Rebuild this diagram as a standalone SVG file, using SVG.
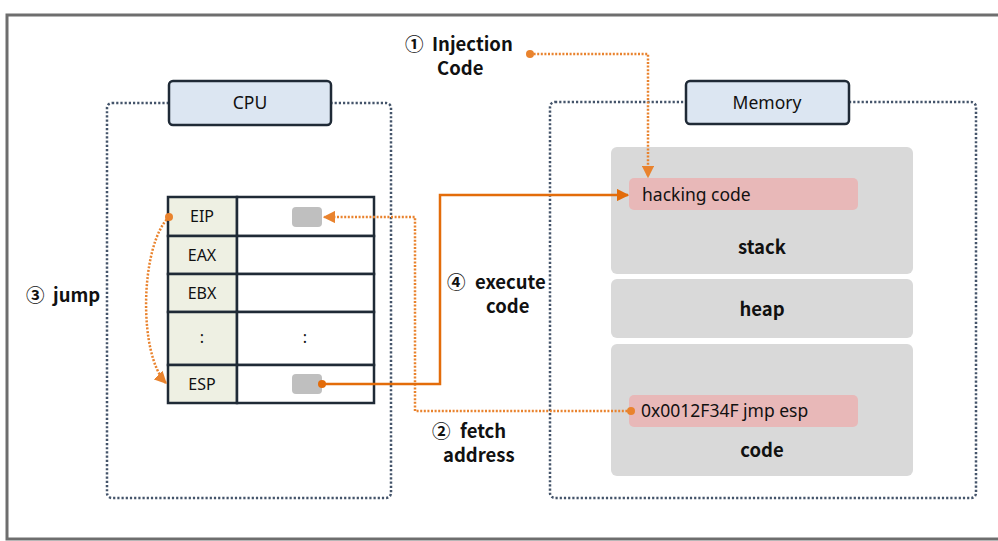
<svg xmlns="http://www.w3.org/2000/svg" width="998" height="541" viewBox="0 0 998 541">
<defs>
<style>
.frame{fill:#fff;stroke:#6e6e6e;stroke-width:3}
.group{fill:none;stroke:#44546A;stroke-width:2.5;stroke-dasharray:2.2 2}
.title{fill:#DCE6F2;stroke:#1F2A36;stroke-width:2.5}
.t{font-family:"Noto Sans","Noto Sans CJK KR",sans-serif;font-size:16px;fill:#111}
.m{font-family:"Noto Sans","Noto Sans CJK KR",sans-serif;font-size:17.5px;fill:#111}
.b{font-family:"Noto Sans CJK KR","Noto Sans",sans-serif;font-weight:bold;font-size:18.5px;fill:#111}
.cellL{fill:#EEF0E3;stroke:#1F2A36;stroke-width:2.5}
.cellR{fill:#fff;stroke:#1F2A36;stroke-width:2.5}
.chip{fill:#BFBFBF}
.seg{fill:#D9D9D9}
.pink{fill:#E8B8B8}
.dot{fill:none;stroke:#E9832E;stroke-width:2.5;stroke-dasharray:2 1.6}
.solid{fill:none;stroke:#E36C0A;stroke-width:2.5}
</style>
<marker id="ah" viewBox="0 0 10 10" refX="9" refY="5" markerWidth="5" markerHeight="5" orient="auto" markerUnits="strokeWidth">
<path d="M0,0 L10,5 L0,10 z" fill="#E36C0A"/>
</marker>
<marker id="ahd" viewBox="0 0 10 10" refX="9" refY="5" markerWidth="5" markerHeight="5" orient="auto" markerUnits="strokeWidth">
<path d="M0,0 L10,5 L0,10 z" fill="#E9832E"/>
</marker>
</defs>
<rect x="7" y="15" width="1000" height="524" class="frame"/>

<g id="cpu">
<rect x="107" y="103" width="284" height="395" rx="5" class="group"/>
<rect x="169" y="81" width="162" height="44" rx="4" class="title"/>
<text x="250" y="109" text-anchor="middle" class="m">CPU</text>
</g>

<g id="registers">
<rect x="168" y="197" width="69" height="39" class="cellL"/>
<rect x="237" y="197" width="137" height="39" class="cellR"/>
<rect x="168" y="236" width="69" height="38" class="cellL"/>
<rect x="237" y="236" width="137" height="38" class="cellR"/>
<rect x="168" y="274" width="69" height="38" class="cellL"/>
<rect x="237" y="274" width="137" height="38" class="cellR"/>
<rect x="168" y="312" width="69" height="53" class="cellL"/>
<rect x="237" y="312" width="137" height="53" class="cellR"/>
<rect x="168" y="365" width="69" height="38" class="cellL"/>
<rect x="237" y="365" width="137" height="38" class="cellR"/>
<text x="202" y="222" text-anchor="middle" class="t">EIP</text>
<text x="202" y="261" text-anchor="middle" class="t">EAX</text>
<text x="202" y="299" text-anchor="middle" class="t">EBX</text>
<text x="202" y="343" text-anchor="middle" class="t">:</text>
<text x="305" y="343" text-anchor="middle" class="t">:</text>
<text x="202" y="390" text-anchor="middle" class="t">ESP</text>
<rect x="292" y="207" width="30" height="20" rx="4" class="chip"/>
<rect x="292" y="374" width="30" height="20" rx="4" class="chip"/>
</g>

<g id="memory">
<rect x="550" y="102" width="426" height="396" rx="5" class="group"/>
<rect x="686" y="81" width="163" height="43" rx="4" class="title"/>
<text x="767" y="109" text-anchor="middle" class="m">Memory</text>
</g>

<g id="stack">
<rect x="611" y="147" width="302" height="127" rx="6" class="seg"/>
<rect x="629" y="178" width="229" height="32" rx="5" class="pink"/>
<text x="642" y="201" class="m">hacking code</text>
<text x="762" y="254" text-anchor="middle" class="b">stack</text>
</g>
<g id="heap">
<rect x="611" y="279" width="302" height="59" rx="6" class="seg"/>
<text x="762" y="316" text-anchor="middle" class="b">heap</text>
</g>
<g id="code">
<rect x="611" y="344" width="302" height="132" rx="6" class="seg"/>
<rect x="629" y="395" width="229" height="32" rx="5" class="pink"/>
<text x="641" y="417" class="m">0x0012F34F jmp esp</text>
<text x="762" y="457" text-anchor="middle" class="b">code</text>
</g>

<g id="labels">
<text y="51" class="b"><tspan x="405">①</tspan><tspan x="432">Injection</tspan></text>
<text x="437" y="75" class="b">Code</text>
<text y="302" class="b"><tspan x="26">③</tspan><tspan x="53">jump</tspan></text>
<text y="289" class="b"><tspan x="447">④</tspan><tspan x="475">execute</tspan></text>
<text x="486" y="313" class="b">code</text>
<text y="438" class="b"><tspan x="432">②</tspan><tspan x="460">fetch</tspan></text>
<text x="443" y="462" class="b">address</text>
</g>

<g id="connectors">
<circle cx="530" cy="54" r="4" fill="#E9832E"/>
<path d="M530,54 H648 V177" class="dot" marker-end="url(#ahd)"/>
<circle cx="631" cy="411" r="4" fill="#E9832E"/>
<path d="M631,411 H415 V217 H324" class="dot" marker-end="url(#ahd)"/>
<circle cx="169" cy="217" r="4" fill="#E9832E"/>
<path d="M169,217 C140,245 138,355 166,383" class="dot" marker-end="url(#ahd)"/>
<circle cx="322" cy="384" r="4" fill="#E36C0A"/>
<path d="M322,384 H440 V195 H628" class="solid" marker-end="url(#ah)"/>
</g>
</svg>
